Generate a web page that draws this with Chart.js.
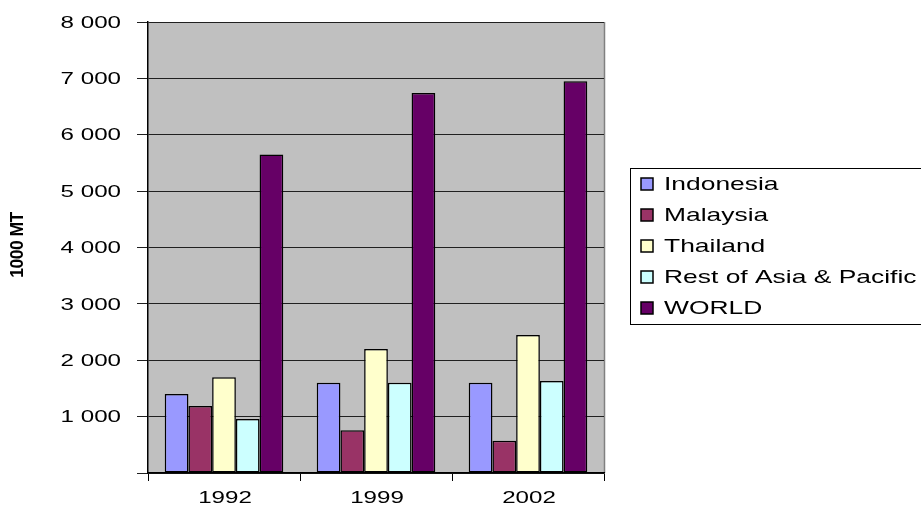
<!DOCTYPE html>
<html>
<head>
<meta charset="utf-8">
<script src="https://cdn.jsdelivr.net/npm/chart.js@4/dist/chart.umd.min.js"></script>
<style>
  html, body { margin: 0; background: #fff; }
</style>
</head>
<body>
<canvas id="grafica" width="921" height="513"></canvas>
<script>
// datos (1000 MT)
const anios = ["1992", "1999", "2002"];
const paises = ["Indonesia", "Malaysia", "Thailand", "Rest of Asia & Pacific", "WORLD"];
const indonesia = [1400, 1600, 1600];
const malaysia = [1190, 760, 570];
const thailand = [1700, 2200, 2450];
const restoAsia = [960, 1600, 1630];
const mundo = [5650, 6740, 6950];
const colores = ["#9999FF", "#993366", "#FFFFCC", "#CCFFFF", "#660066"];
const valores = [indonesia, malaysia, thailand, restoAsia, mundo];

const fuente = "'Liberation Sans', Arial, sans-serif";

// el texto original esta ensanchado horizontalmente
function texto(ctx, t, x, y, align, k) {
  ctx.save();
  ctx.translate(x, y);
  ctx.scale(k, 1);
  ctx.textAlign = align;
  ctx.fillText(t, 0, 0);
  ctx.restore();
}

const formato = (v) => String(v).replace(/\B(?=(\d{3})+(?!\d))/g, " ");

const dibujo = {
  id: "dibujo",
  beforeDraw(chart) {
    const ctx = chart.ctx;
    const a = chart.chartArea;
    ctx.save();
    ctx.fillStyle = "#C0C0C0";
    ctx.fillRect(a.left, a.top, a.right - a.left, a.bottom - a.top);
    ctx.strokeStyle = "#808080";
    ctx.lineWidth = 1.5;
    ctx.beginPath();
    ctx.moveTo(a.right + 0.5, a.top);
    ctx.lineTo(a.right + 0.5, a.bottom);
    ctx.stroke();
    ctx.restore();
  },
  afterDraw(chart) {
    const ctx = chart.ctx;
    const sx = chart.scales.x, sy = chart.scales.y;

    // etiquetas de los ejes
    ctx.save();
    ctx.fillStyle = "#000";
    ctx.textBaseline = "middle";
    ctx.font = "17px " + fuente;
    sy.ticks.forEach((t) => {
      if (t.value === 0) return;
      texto(ctx, formato(t.value), 121, sy.getPixelForValue(t.value) + 1, "right", 1.42);
    });
    anios.forEach((an, i) => {
      texto(ctx, an, sx.getPixelForTick(i) + 1, 498, "center", 1.42);
    });
    ctx.restore();

    // titulo eje y
    ctx.save();
    ctx.translate(18, 245);
    ctx.rotate(-Math.PI / 2);
    ctx.font = "bold 17.5px " + fuente;
    ctx.letterSpacing = "-0.5px";
    ctx.fillStyle = "#000";
    ctx.textAlign = "center";
    ctx.textBaseline = "middle";
    ctx.fillText("1000 MT", 0, 0);
    ctx.restore();

    // leyenda
    ctx.save();
    ctx.strokeStyle = "#000";
    ctx.lineWidth = 1;
    ctx.strokeRect(630.5, 168.5, 295, 156);
    ctx.font = "19px " + fuente;
    ctx.textBaseline = "middle";
    chart.data.datasets.forEach((ds, i) => {
      const y = 184 + i * 31;
      ctx.fillStyle = ds.backgroundColor;
      ctx.fillRect(641, y - 6, 12, 12);
      ctx.strokeStyle = "#000";
      ctx.lineWidth = 1.5;
      ctx.strokeRect(641, y - 6, 12, 12);
      ctx.fillStyle = "#000";
      texto(ctx, ds.label, 664, y + 1, "left", 1.39);
    });
    ctx.restore();
  }
};

new Chart(document.getElementById("grafica"), {
  type: "bar",
  data: {
    labels: anios,
    datasets: paises.map((p, i) => ({
      label: p,
      data: valores[i],
      backgroundColor: colores[i],
      borderColor: "#000",
      borderWidth: 1.5,
      borderSkipped: false,
      barPercentage: 1,
      categoryPercentage: 0.78
    }))
  },
  options: {
    responsive: false,
    animation: false,
    devicePixelRatio: 1,
    layout: { padding: { top: 22, right: 317, left: 0, bottom: 0 } },
    plugins: { legend: { display: false }, tooltip: { enabled: false } },
    scales: {
      x: {
        afterFit(s) { s.height = 40; },
        grid: {
          offset: true,
          drawOnChartArea: false,
          color: "#000",
          tickLength: 8,
          lineWidth: 1
        },
        border: { color: "#000", width: 1.5 },
        ticks: { color: "rgba(0,0,0,0)", font: { family: fuente, size: 17 } }
      },
      y: {
        min: 0,
        max: 8000,
        afterFit(s) { s.width = 148; },
        grid: { color: "#202020", lineWidth: 1, tickLength: 11 },
        border: { color: "#000", width: 1.5 },
        ticks: {
          stepSize: 1000,
          color: "rgba(0,0,0,0)",
          font: { family: fuente, size: 17 },
          callback: formato
        }
      }
    }
  },
  plugins: [dibujo]
});
</script>
</body>
</html>
